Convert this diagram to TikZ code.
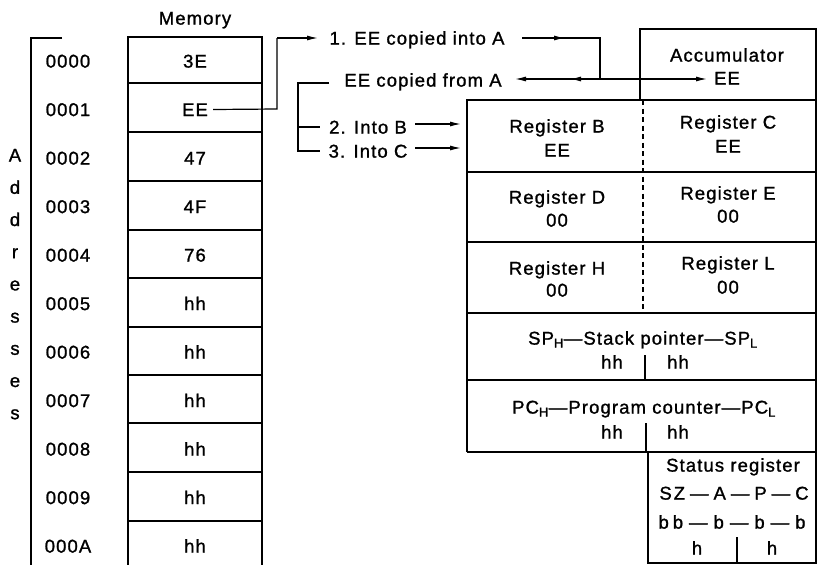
\documentclass[tikz,border=0pt]{standalone}
\usepackage{fontspec}
\setmainfont{Liberation Sans}[LetterSpace=6,FakeBold=1.2]
\usetikzlibrary{arrows.meta}
\begin{document}
\begin{tikzpicture}[x=1pt,y=-1pt,
  txt/.style={inner sep=0pt, font=\fontsize{18.5pt}{20pt}\selectfont, text height=13.2pt, text depth=0pt},
  thickline/.style={line width=2.2pt},
  thinline/.style={line width=1.3pt},
  conn/.style={line width=1.2pt},
  arr/.style={conn, -{Latex[length=11pt,width=5pt]}},
]
\useasboundingbox (0,0) rectangle (818,565);
% ---------- Memory ----------
\node[txt] (memtitle) at (195,18) {Memory};
\draw[thickline] (128,37) -- (128,565);
\draw[thickline] (262,37) -- (262,565);
\draw[thickline] (127,37) -- (263,37);
\foreach \yy in {83,132,181,230,278,327,375,423,472,521}
  \draw[thinline] (128,\yy) -- (262,\yy);
\foreach \i/\a/\v in {0/0000/3E,1/0001/EE,2/0002/47,3/0003/4F,4/0004/76,5/0005/hh,6/0006/hh,7/0007/hh,8/0008/hh,9/0009/hh,10/000A/hh}{
  \node[txt] (a\i) at (68,61+48.5*\i) {\a};
  \node[txt] (v\i) at (195,61+48.5*\i) {\v};
}
% Addresses bracket
\draw[thinline] (62,38) -- (31,38) -- (31,565);
\foreach \i/\c in {0/A,1/d,2/d,3/r,4/e,5/s,6/s,7/e,8/s}
  \node[txt] (L\i) at (15,155+32.2*\i) {\c};
% ---------- Accumulator ----------
\draw[thickline] (640,100) -- (640,29) -- (816,29) -- (816,100);
\node[txt] (acc) at (727,55) {Accumulator};
\node[txt] (accv) at (727,78) {EE};
% ---------- Register block ----------
\draw[thickline] (467,452) -- (467,100) -- (816,100) -- (816,563) -- (648,563) -- (648,452);
\foreach \yy in {172,242,313,380,452}
  \draw[thinline] (467,\yy) -- (816,\yy);
\draw[thinline, dash pattern=on 5pt off 3.5pt] (643,100) -- (643,313);
\node[txt] (rB) at (557,126) {Register B};
\node[txt] (rBv) at (557,150) {EE};
\node[txt] (rC) at (728,122) {Register C};
\node[txt] (rCv) at (728,146) {EE};
\node[txt] (rD) at (557,197) {Register D};
\node[txt] (rDv) at (557,220) {00};
\node[txt] (rE) at (728,193) {Register E};
\node[txt] (rEv) at (728,216) {00};
\node[txt] (rH) at (557,268) {Register H};
\node[txt] (rHv) at (557,290) {00};
\node[txt] (rL) at (728,263) {Register L};
\node[txt] (rLv) at (728,287) {00};
\node[txt] (sp) at (643,338) {SP\textsubscript{H}---Stack pointer---SP\textsubscript{L}};
\node[txt] (sph) at (612,362) {hh};
\node[txt] (spl) at (678,362) {hh};
\draw[thinline] (645,355) -- (645,380);
\node[txt] (pc) at (644,407) {PC\textsubscript{H}---Program counter---PC\textsubscript{L}};
\node[txt] (pch) at (612,432) {hh};
\node[txt] (pcl) at (678,432) {hh};
\draw[thinline] (646,423) -- (646,452);
% Status register
\node[txt] (st) at (733,465) {Status register};
\node[txt] (st1) at (734,493) {S\hspace{2pt}Z\hspace{5pt}---\hspace{5pt}A\hspace{5pt}---\hspace{5pt}P\hspace{5pt}---\hspace{5pt}C};
\node[txt] (st2) at (732,522) {b\hspace{4pt}b\hspace{6pt}---\hspace{6pt}b\hspace{6pt}---\hspace{6pt}b\hspace{6pt}---\hspace{6pt}b};
\node[txt] (sth) at (697,548) {h};
\node[txt] (stl) at (772,548) {h};
\draw[thinline] (737,537) -- (737,563);
% ---------- Transfer labels and connectors ----------
\node[txt] (t1) at (417,38) {1. EE copied into A};
\node[txt] (t2) at (423,80) {EE copied from A};
\node[txt] (t3) at (368,127) {2. Into B};
\node[txt] (t4) at (368,151) {3. Into C};
\coordinate (c1a) at (277,109);
\coordinate (c1b) at (277,38);
\coordinate (c1c) at (318,38);
\draw[conn] ([xshift=5pt]v1.east) -- (c1a) -- (c1b);
\draw[arr] (c1b) -- (c1c);
\coordinate (d1) at (522,38);
\coordinate (d2) at (565,38);
\coordinate (d3) at (600,38);
\coordinate (jn) at (600,79);
\draw[arr] (d1) -- (d2);
\draw[conn] (558,38) -- (d3) -- (jn);
\coordinate (e1) at (570,79);
\coordinate (e2) at (515,79);
\coordinate (e3) at (707,79);
\draw[arr] (jn) -- (e1);
\draw[arr] (578,79) -- (e2);
\draw[arr] (jn) -- (e3);
\coordinate (f1) at (329,83);
\coordinate (f2) at (298,83);
\coordinate (f3) at (298,151);
\coordinate (f4) at (320,151);
\coordinate (f5) at (298,127);
\coordinate (f6) at (320,127);
\draw[conn] (f1) -- (f2) -- (f3) -- (f4);
\draw[conn] (f5) -- (f6);
\coordinate (g1) at (415,124);
\coordinate (g2) at (461,124);
\coordinate (h1) at (415,148);
\coordinate (h2) at (461,148);
\draw[arr] (g1) -- (g2);
\draw[arr] (h1) -- (h2);
\end{tikzpicture}
\end{document}
